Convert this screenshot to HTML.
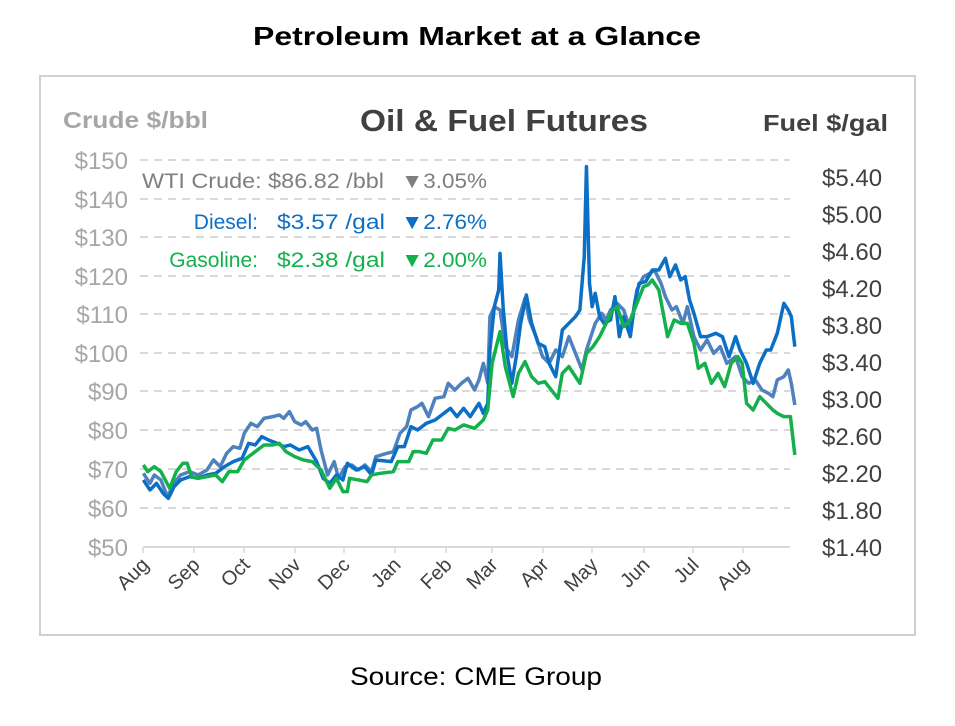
<!DOCTYPE html>
<html><head><meta charset="utf-8"><style>
body{margin:0;background:#fff;width:955px;height:721px;overflow:hidden;font-family:"Liberation Sans",sans-serif}
</style></head><body>
<svg width="955" height="721" xmlns="http://www.w3.org/2000/svg" font-family="Liberation Sans, sans-serif">
<rect width="955" height="721" fill="#fff"/>
<text x="253" y="45" font-size="26" font-weight="bold" fill="#000" textLength="448" lengthAdjust="spacingAndGlyphs">Petroleum Market at a Glance</text>
<rect x="40" y="76" width="875" height="559" fill="#fff" stroke="#d0d0d0" stroke-width="2"/>
<text x="360" y="131" font-size="31" font-weight="bold" fill="#404040" textLength="288" lengthAdjust="spacingAndGlyphs">Oil &amp; Fuel Futures</text>
<text x="63" y="128" font-size="23" font-weight="bold" fill="#a6a6a6" textLength="145" lengthAdjust="spacingAndGlyphs">Crude $/bbl</text>
<text x="763" y="131" font-size="23" font-weight="bold" fill="#404040" textLength="125" lengthAdjust="spacingAndGlyphs">Fuel $/gal</text>
<g stroke="#d9d9d9" stroke-width="2" stroke-dasharray="8,6">
<line x1="140" y1="160" x2="790" y2="160"/><line x1="140" y1="199" x2="790" y2="199"/>
<line x1="140" y1="237" x2="790" y2="237"/><line x1="140" y1="276" x2="790" y2="276"/>
<line x1="140" y1="314" x2="790" y2="314"/><line x1="140" y1="353" x2="790" y2="353"/>
<line x1="140" y1="391" x2="790" y2="391"/><line x1="140" y1="430" x2="790" y2="430"/>
<line x1="140" y1="469" x2="790" y2="469"/><line x1="140" y1="508" x2="790" y2="508"/>
</g>
<line x1="143" y1="547" x2="790" y2="547" stroke="#d9d9d9" stroke-width="2"/>
<g stroke="#d9d9d9" stroke-width="1.5">
<line x1="143" y1="547" x2="143" y2="553"/><line x1="194" y1="547" x2="194" y2="553"/><line x1="244" y1="547" x2="244" y2="553"/><line x1="295" y1="547" x2="295" y2="553"/><line x1="344" y1="547" x2="344" y2="553"/><line x1="395" y1="547" x2="395" y2="553"/><line x1="446" y1="547" x2="446" y2="553"/><line x1="492" y1="547" x2="492" y2="553"/><line x1="543" y1="547" x2="543" y2="553"/><line x1="592" y1="547" x2="592" y2="553"/><line x1="644" y1="547" x2="644" y2="553"/><line x1="693" y1="547" x2="693" y2="553"/><line x1="743" y1="547" x2="743" y2="553"/>
</g>
<g font-size="24" fill="#a6a6a6" text-anchor="end">
<text x="128" y="169">$150</text><text x="128" y="208">$140</text><text x="128" y="246">$130</text><text x="128" y="285">$120</text><text x="128" y="323">$110</text><text x="128" y="362">$100</text><text x="128" y="400">$90</text><text x="128" y="439">$80</text><text x="128" y="478">$70</text><text x="128" y="517">$60</text><text x="128" y="556">$50</text>
</g>
<g font-size="24" fill="#404040">
<text x="822" y="186">$5.40</text><text x="822" y="223">$5.00</text><text x="822" y="260">$4.60</text><text x="822" y="297">$4.20</text><text x="822" y="334">$3.80</text><text x="822" y="371">$3.40</text><text x="822" y="408">$3.00</text><text x="822" y="445">$2.60</text><text x="822" y="482">$2.20</text><text x="822" y="519">$1.80</text><text x="822" y="556">$1.40</text>
</g>
<g font-size="20" fill="#404040" text-anchor="end">
<text transform="translate(150,566) rotate(-45)">Aug</text><text transform="translate(201,566) rotate(-45)">Sep</text><text transform="translate(251,566) rotate(-45)">Oct</text><text transform="translate(302,566) rotate(-45)">Nov</text><text transform="translate(351,566) rotate(-45)">Dec</text><text transform="translate(402,566) rotate(-45)">Jan</text><text transform="translate(453,566) rotate(-45)">Feb</text><text transform="translate(499,566) rotate(-45)">Mar</text><text transform="translate(550,566) rotate(-45)">Apr</text><text transform="translate(599,566) rotate(-45)">May</text><text transform="translate(651,566) rotate(-45)">Jun</text><text transform="translate(700,566) rotate(-45)">Jul</text><text transform="translate(750,566) rotate(-45)">Aug</text>
</g>
<g transform="translate(128,150) scale(0.4387,0.3333)" fill="none" stroke-linejoin="round">
<polyline vector-effect="non-scaling-stroke" stroke="#4f81bd" stroke-width="3.5" points="35,970 50,1000 60,975 75,990 90,1040 105,1000 120,975 140,965 160,975 180,960 195,930 210,950 225,910 240,890 255,895 265,850 280,820 295,830 310,805 330,800 345,795 355,805 368,785 380,815 395,825 405,815 420,840 430,835 440,900 455,975 470,935 480,985 495,950 510,945 525,960 540,945 555,965 565,920 590,910 605,905 620,850 635,830 645,780 660,770 670,760 685,800 700,745 720,740 730,700 745,720 760,700 775,685 790,720 800,690 810,640 820,700 825,500 835,470 848,480 860,590 875,620 890,510 905,445 915,510 930,560 945,620 960,640 975,600 990,620 1005,560 1020,610 1035,660 1045,600 1055,560 1065,520 1080,490 1090,510 1100,480 1115,460 1130,480 1145,540 1160,420 1175,380 1190,370 1200,360 1215,400 1225,440 1240,480 1250,470 1265,520 1275,470 1290,560 1305,600 1320,570 1335,610 1350,590 1365,640 1385,620 1400,680 1415,700 1430,690 1445,720 1460,730 1470,740 1480,690 1495,680 1505,660 1512,700 1520,765"/>
<polyline vector-effect="non-scaling-stroke" stroke="#0b6fc6" stroke-width="3.5" points="35,990 50,1020 65,1000 80,1030 92,1045 105,1010 120,990 140,980 160,985 180,975 200,970 220,950 240,935 260,925 275,880 290,885 305,860 320,870 340,880 355,890 370,885 390,900 410,890 430,935 445,985 460,1000 475,975 490,990 500,940 520,960 540,950 555,975 565,930 600,935 615,890 630,890 645,830 660,840 680,820 700,810 715,795 735,775 750,800 765,775 780,800 800,760 810,790 820,760 825,600 835,470 845,420 848,310 855,470 865,620 875,700 885,620 895,520 908,435 920,520 935,580 950,590 960,640 975,680 990,540 1005,520 1020,500 1030,480 1040,320 1045,50 1052,400 1058,470 1065,430 1075,500 1085,520 1100,510 1110,440 1120,560 1130,500 1145,560 1155,460 1165,400 1180,395 1195,360 1210,360 1225,325 1235,380 1248,345 1260,390 1270,380 1280,450 1290,490 1305,560 1320,560 1340,550 1355,560 1370,620 1385,560 1395,600 1410,640 1425,700 1440,640 1455,600 1465,600 1480,550 1495,460 1505,480 1512,500 1520,590"/>
<polyline vector-effect="non-scaling-stroke" stroke="#13b04b" stroke-width="3.5" points="35,945 45,965 60,950 75,965 95,1015 110,965 125,940 135,940 145,980 160,985 180,980 200,975 215,995 230,965 250,965 265,930 280,915 295,900 310,885 330,885 345,880 360,905 380,920 400,930 420,935 440,960 460,1015 475,985 490,1025 500,1025 505,985 525,990 545,995 555,975 575,970 605,965 615,935 640,935 650,905 665,905 680,910 695,870 715,870 730,835 745,840 765,825 790,835 810,810 820,780 830,640 848,545 860,650 878,740 890,670 905,635 920,680 935,700 950,695 965,720 980,745 990,670 1005,650 1020,680 1030,700 1045,610 1060,590 1075,560 1090,520 1105,480 1115,470 1130,530 1145,510 1160,460 1175,410 1185,405 1195,390 1210,420 1230,560 1245,510 1260,520 1275,520 1290,580 1300,655 1315,640 1330,700 1345,670 1360,710 1375,640 1390,620 1400,640 1410,760 1425,780 1440,740 1455,760 1470,780 1480,790 1495,800 1510,800 1520,915"/>
</g>
<g font-size="21">
<text x="142" y="188" fill="#7f7f7f" textLength="242" lengthAdjust="spacingAndGlyphs">WTI Crude: $86.82 /bbl</text>
<text x="401" y="188" fill="#7f7f7f" textLength="86" lengthAdjust="spacingAndGlyphs">▼3.05%</text>
<text x="258" y="229" fill="#0b6fc6" text-anchor="end">Diesel:</text>
<text x="277" y="229" fill="#0b6fc6" textLength="108" lengthAdjust="spacingAndGlyphs">$3.57 /gal</text>
<text x="401" y="229" fill="#0b6fc6" textLength="86" lengthAdjust="spacingAndGlyphs">▼2.76%</text>
<text x="258" y="267" fill="#13b04b" text-anchor="end">Gasoline:</text>
<text x="277" y="267" fill="#13b04b" textLength="108" lengthAdjust="spacingAndGlyphs">$2.38 /gal</text>
<text x="401" y="267" fill="#13b04b" textLength="86" lengthAdjust="spacingAndGlyphs">▼2.00%</text>
</g>
<text x="350" y="685" font-size="25" fill="#000" textLength="252" lengthAdjust="spacingAndGlyphs">Source: CME Group</text>
</svg>
</body></html>
